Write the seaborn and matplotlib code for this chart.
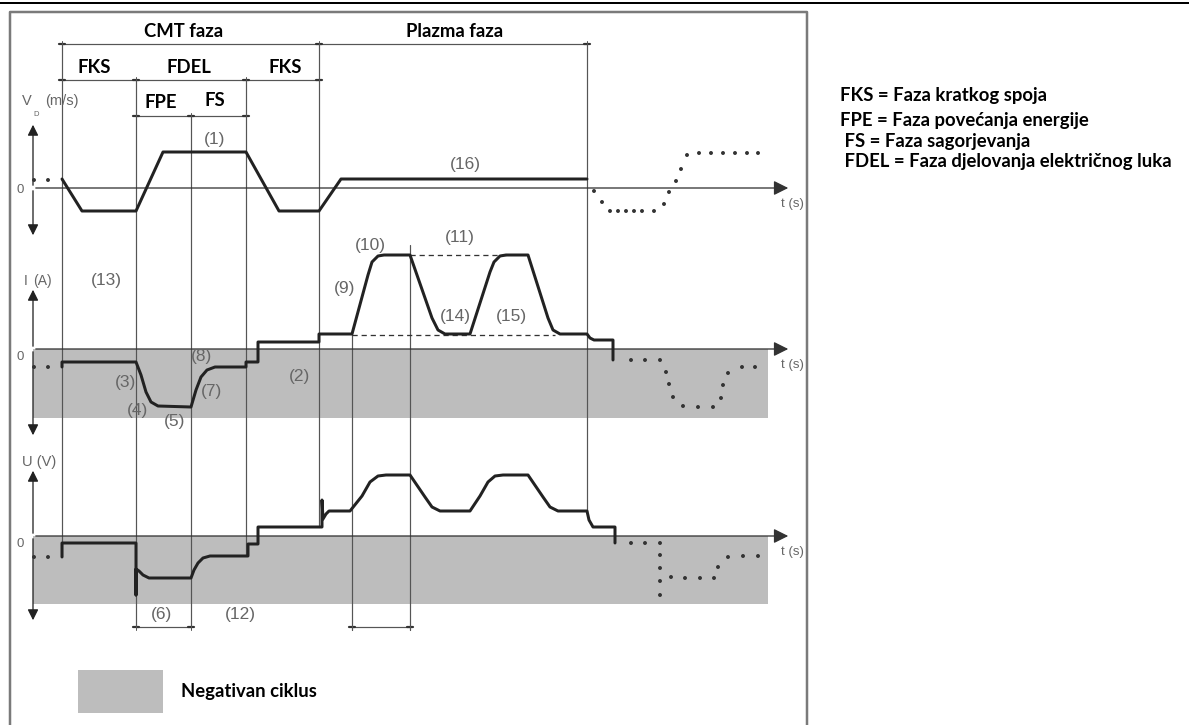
import matplotlib
matplotlib.use("Agg")
import matplotlib.pyplot as plt
import seaborn as sns
import pandas as pd
from matplotlib.patches import Rectangle

# ---------------- data (schematic waveforms, pixel-like units) ----------------
v_x = [62, 82, 136, 163, 246, 279, 319, 341, 587]
v_y = [179, 211, 211, 152, 152, 211, 211, 179, 179]
v_pre_x = [34, 48]
v_pre_y = [180, 180]
v_tail_x = [594, 602, 610, 618, 626, 634, 642, 654, 664, 669, 676, 681, 687, 699, 711, 723, 735, 747, 758]
v_tail_y = [191, 202, 211, 211, 211, 211, 211, 211, 204, 192, 181, 169, 155, 153, 153, 153, 153, 153, 153]

i_x = [62, 62, 136, 141, 146, 151, 158, 191, 196, 201, 207, 215, 246, 246, 258, 258, 319, 319, 352,
       368, 372, 378, 384, 410, 432, 438, 445, 470, 490, 494, 500, 506, 528, 548, 553, 560, 587, 590,
       594, 613, 613]
i_y = [367, 362, 362, 375, 392, 402, 406, 407, 390, 377, 370, 367, 367, 362, 362, 342, 342, 334, 334,
       275, 262, 256, 255, 255, 318, 330, 334, 334, 272, 262, 256, 255, 255, 318, 330, 334, 334, 338,
       340, 340, 360]
i_pre_x = [34, 48]
i_pre_y = [367, 367]
i_tail_x = [631, 645, 660, 666, 669, 673, 683, 698, 713, 721, 723, 728, 742, 755]
i_tail_y = [360, 360, 360, 372, 384, 397, 406, 407, 407, 398, 385, 373, 367, 367]

u_x = [62, 62, 136, 136, 136, 139, 143, 149, 191, 194, 198, 203, 210, 248, 248, 258, 258, 322, 322,
       323, 326, 329, 350, 362, 370, 378, 386, 410, 425, 432, 440, 470, 480, 488, 495, 503, 528, 543,
       550, 558, 587, 589, 593, 615, 615]
u_y = [557, 543, 543, 595, 569, 571, 575, 578, 578, 570, 563, 558, 556, 556, 544, 544, 527, 527, 500,
       519, 514, 511, 511, 496, 482, 476, 475, 475, 497, 507, 511, 511, 496, 482, 476, 475, 475, 497,
       507, 511, 511, 520, 527, 527, 543]
u_pre_x = [34, 48]
u_pre_y = [557, 557]
u_tail_x = [631, 645, 660, 660, 660, 660, 660, 671, 685, 700, 714, 718, 728, 743, 758]
u_tail_y = [543, 543, 543, 555, 568, 581, 595, 577, 578, 578, 578, 567, 557, 556, 556]

phase_x = [62, 136, 191, 246, 319, 352, 410, 587]
phase_top = [44, 80, 116, 80, 44, 334, 245, 44]
phase_bottom = [557, 627, 627, 556, 527, 630, 630, 511]

legend_lines = ["FKS = Faza kratkog spoja", "FPE = Faza povećanja energije",
                " FS = Faza sagorjevanja", " FDEL = Faza djelovanja električnog luka"]

# ---------------- figure ----------------
sns.set_style("white")
fig = plt.figure(figsize=(11.89, 7.25), dpi=100)
ax = fig.add_axes([0, 0, 1, 1])
ax.set_xlim(0, 1189)
ax.set_ylim(725, 0)
ax.axis("off")

px = 0.72  # points per pixel
wave = "#222222"
gray_band = "#bdbdbd"
lab_col = "#666666"
lab_font = "Liberation Sans"
bold_font = "Lato"
bold_size = 13.3

# top black rule and frame
ax.plot([0, 1189], [3, 3], color="black", lw=2 * px)
ax.plot([10, 10, 807, 807], [727, 12, 12, 727], color="#7a7a7a", lw=2.5 * px)

# gray negative-cycle bands
for y0, y1 in [(349, 418), (536, 604)]:
    ax.add_patch(Rectangle((33, y0), 735, y1 - y0, facecolor=gray_band, edgecolor="none", zorder=0))

# phase vertical lines
for x, t, b in zip(phase_x, phase_top, phase_bottom):
    ax.plot([x, x], [t, b], color="#555555", lw=1.2 * px, zorder=1)

# dimension lines with small end ticks
def dim(x0, x1, y, ticks):
    ax.plot([x0, x1], [y, y], color="#555555", lw=1.2 * px, zorder=1)
    for t in ticks:
        ax.plot([t - 3, t + 3], [y, y], color="#333333", lw=2.2 * px, zorder=1)
        ax.plot([t, t], [y - 3, y + 3], color="#555555", lw=1 * px, zorder=1)

dim(62, 587, 44, [62, 319, 587])
dim(62, 319, 80, [62, 136, 246, 319])
dim(136, 246, 116, [136, 191, 246])
dim(136, 191, 627, [136, 191])
dim(352, 410, 627, [352, 410])

# axes arrows
arrow_kw = dict(arrowstyle="-|>", color="#222222", lw=1.3 * px, mutation_scale=16)
for top, zero, bottom in [(122, 188, 238), (287, 349, 438), (468, 536, 623)]:
    ax.annotate("", xy=(33, top), xytext=(33, zero), arrowprops=arrow_kw)
    ax.annotate("", xy=(33, bottom), xytext=(33, zero), arrowprops=arrow_kw)
    ax.annotate("", xy=(791, zero), xytext=(33, zero),
                arrowprops=dict(arrowstyle="-|>", color="#333333", lw=1.3 * px, mutation_scale=22))
    ax.text(20, zero + (2 if zero == 188 else 8), "0", color=lab_col, fontsize=9.5,
            family=lab_font, ha="center", va="center")
    ax.text(781, zero + 16, "t (s)", color=lab_col, fontsize=9.5, family=lab_font, ha="left", va="center")

# dashed reference lines in current plot
ax.plot([410, 510], [255, 255], color="#333333", lw=1.3 * px, ls=(0, (4, 3)), zorder=1)
ax.plot([352, 555], [335, 335], color="#333333", lw=1.3 * px, ls=(0, (4, 3)), zorder=1)

# waveforms
for xs, ys in [(v_x, v_y), (i_x, i_y), (u_x, u_y)]:
    df = pd.DataFrame({"x": xs, "y": ys})
    sns.lineplot(data=df, x="x", y="y", sort=False, estimator=None, color=wave,
                 lw=3 * px, ax=ax, zorder=3)
for xs, ys in [(v_pre_x, v_pre_y), (i_pre_x, i_pre_y), (u_pre_x, u_pre_y),
               (v_tail_x, v_tail_y), (i_tail_x, i_tail_y), (u_tail_x, u_tail_y)]:
    df = pd.DataFrame({"x": xs, "y": ys})
    sns.scatterplot(data=df, x="x", y="y", color="#333333", s=8, edgecolor="none", ax=ax, zorder=3)
ax.set_xlim(0, 1189)
ax.set_ylim(725, 0)
ax.axis("off")

# axis labels
ax.text(22, 101, "V", color=lab_col, fontsize=10.5, family=lab_font, va="center")
ax.text(45, 101, "(m/s)", color=lab_col, fontsize=10.5, family=lab_font, va="center")
ax.text(33, 114, "D", color=lab_col, fontsize=5.5, family=lab_font, va="center")
ax.text(24, 281, "I", color=lab_col, fontsize=10, family=lab_font, va="center")
ax.text(33, 281, "(A)", color=lab_col, fontsize=10, family=lab_font, va="center")
ax.text(22, 462, "U (V)", color=lab_col, fontsize=10.5, family=lab_font, va="center")

# numbered annotations
notes = [("(1)", 215, 139), ("(16)", 465, 164), ("(13)", 106, 280), ("(10)", 370, 245),
         ("(9)", 345, 288), ("(11)", 460, 237), ("(14)", 455, 316), ("(15)", 511, 316),
         ("(3)", 125, 382), ("(4)", 137, 410), ("(5)", 175, 421), ("(7)", 212, 391),
         ("(8)", 202, 356), ("(2)", 300, 376), ("(6)", 161, 614), ("(12)", 240, 614)]
for s, x, y in notes:
    ax.text(x, y, s, color=lab_col, fontsize=12.5, family=lab_font, ha="center", va="center")

# phase titles (bold)
for s, x, y in [("CMT faza", 184, 31), ("Plazma faza", 455, 31), ("FKS", 94, 67),
                ("FDEL", 189, 67), ("FKS", 285, 67), ("FPE", 161, 102), ("FS", 215, 100)]:
    ax.text(x, y, s, color="black", fontsize=bold_size, family=bold_font, fontweight="bold",
            ha="center", va="center")

# negative cycle legend
ax.add_patch(Rectangle((78, 670), 85, 43, facecolor=gray_band, edgecolor="none"))
ax.text(181, 692, "Negativan ciklus", color="black", fontsize=bold_size, family=bold_font,
        fontweight="bold", ha="left", va="center")

# right legend
for s, y in zip(legend_lines, [95, 120, 141, 161]):
    ax.text(840, y, s, color="black", fontsize=bold_size, family=bold_font, fontweight="bold",
            ha="left", va="center")

fig.savefig("out.png", dpi=100)
